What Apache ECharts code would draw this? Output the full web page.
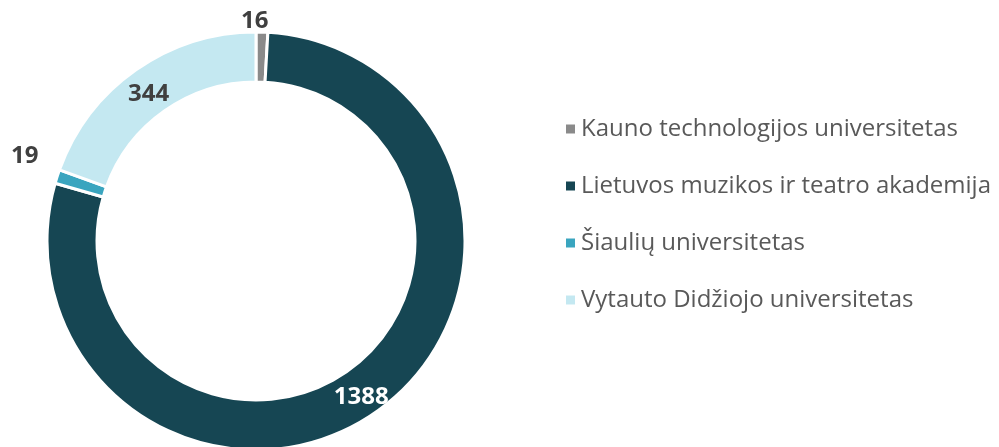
<!doctype html>
<html>
<head>
<meta charset="utf-8">
<title>Universitetai</title>
<style>
  html, body { margin: 0; padding: 0; background: #fff; }
  #main { width: 999px; height: 447px; }
</style>
</head>
<body>
<div id="main"></div>
<script src="https://cdn.jsdelivr.net/npm/echarts@6/dist/echarts.min.js"></script>
<script>
var chart = echarts.init(document.getElementById('main'));

// data
var names = ['Kauno technologijos universitetas', 'Lietuvos muzikos ir teatro akademija', 'Šiaulių universitetas', 'Vytauto Didžiojo universitetas'];
var values = [16, 1388, 19, 344];
var colors = ['#8A8A8A', '#164653', '#3AA5BF', '#C4E8F1'];
var labelColors = ['#404040', '#ffffff', '#404040', '#404040'];
var labelPos = ['outside', 'inside', 'outside', 'inside'];

var pieData = names.map(function (n, i) {
    return {
        name: n,
        value: values[i],
        itemStyle: { color: colors[i] },
        label: { position: labelPos[i], color: labelColors[i] }
    };
});

chart.setOption({
    animation: false,
    legend: {
        orient: 'vertical',
        left: 559,
        top: 109,
        icon: 'rect',
        itemWidth: 11,
        itemHeight: 11,
        itemGap: 27,
        textStyle: { fontFamily: 'Open Sans', fontSize: 24, color: '#595959', lineHeight: 30 },
        data: names
    },
    series: [{
        type: 'pie',
        center: [256, 241],
        radius: [159, 209],
        startAngle: 90,
        clockwise: true,
        avoidLabelOverlap: false,
        itemStyle: { borderColor: '#fff', borderWidth: 3 },
        label: {
            show: true,
            formatter: '{c}',
            fontFamily: 'Open Sans',
            fontWeight: 'bold',
            fontSize: 24
        },
        labelLine: { show: false, length: 6, length2: 0 },
        labelLayout: function (p) {
            if (p.dataIndex === 0) return { dx: -26, dy: -5 };
            if (p.dataIndex === 2) return { dx: -8, dy: -18 };
            if (p.dataIndex === 3) return { dy: 6 };
            return { dx: -3, dy: 4 };
        },
        data: pieData
    }]
});
</script>
</body>
</html>
